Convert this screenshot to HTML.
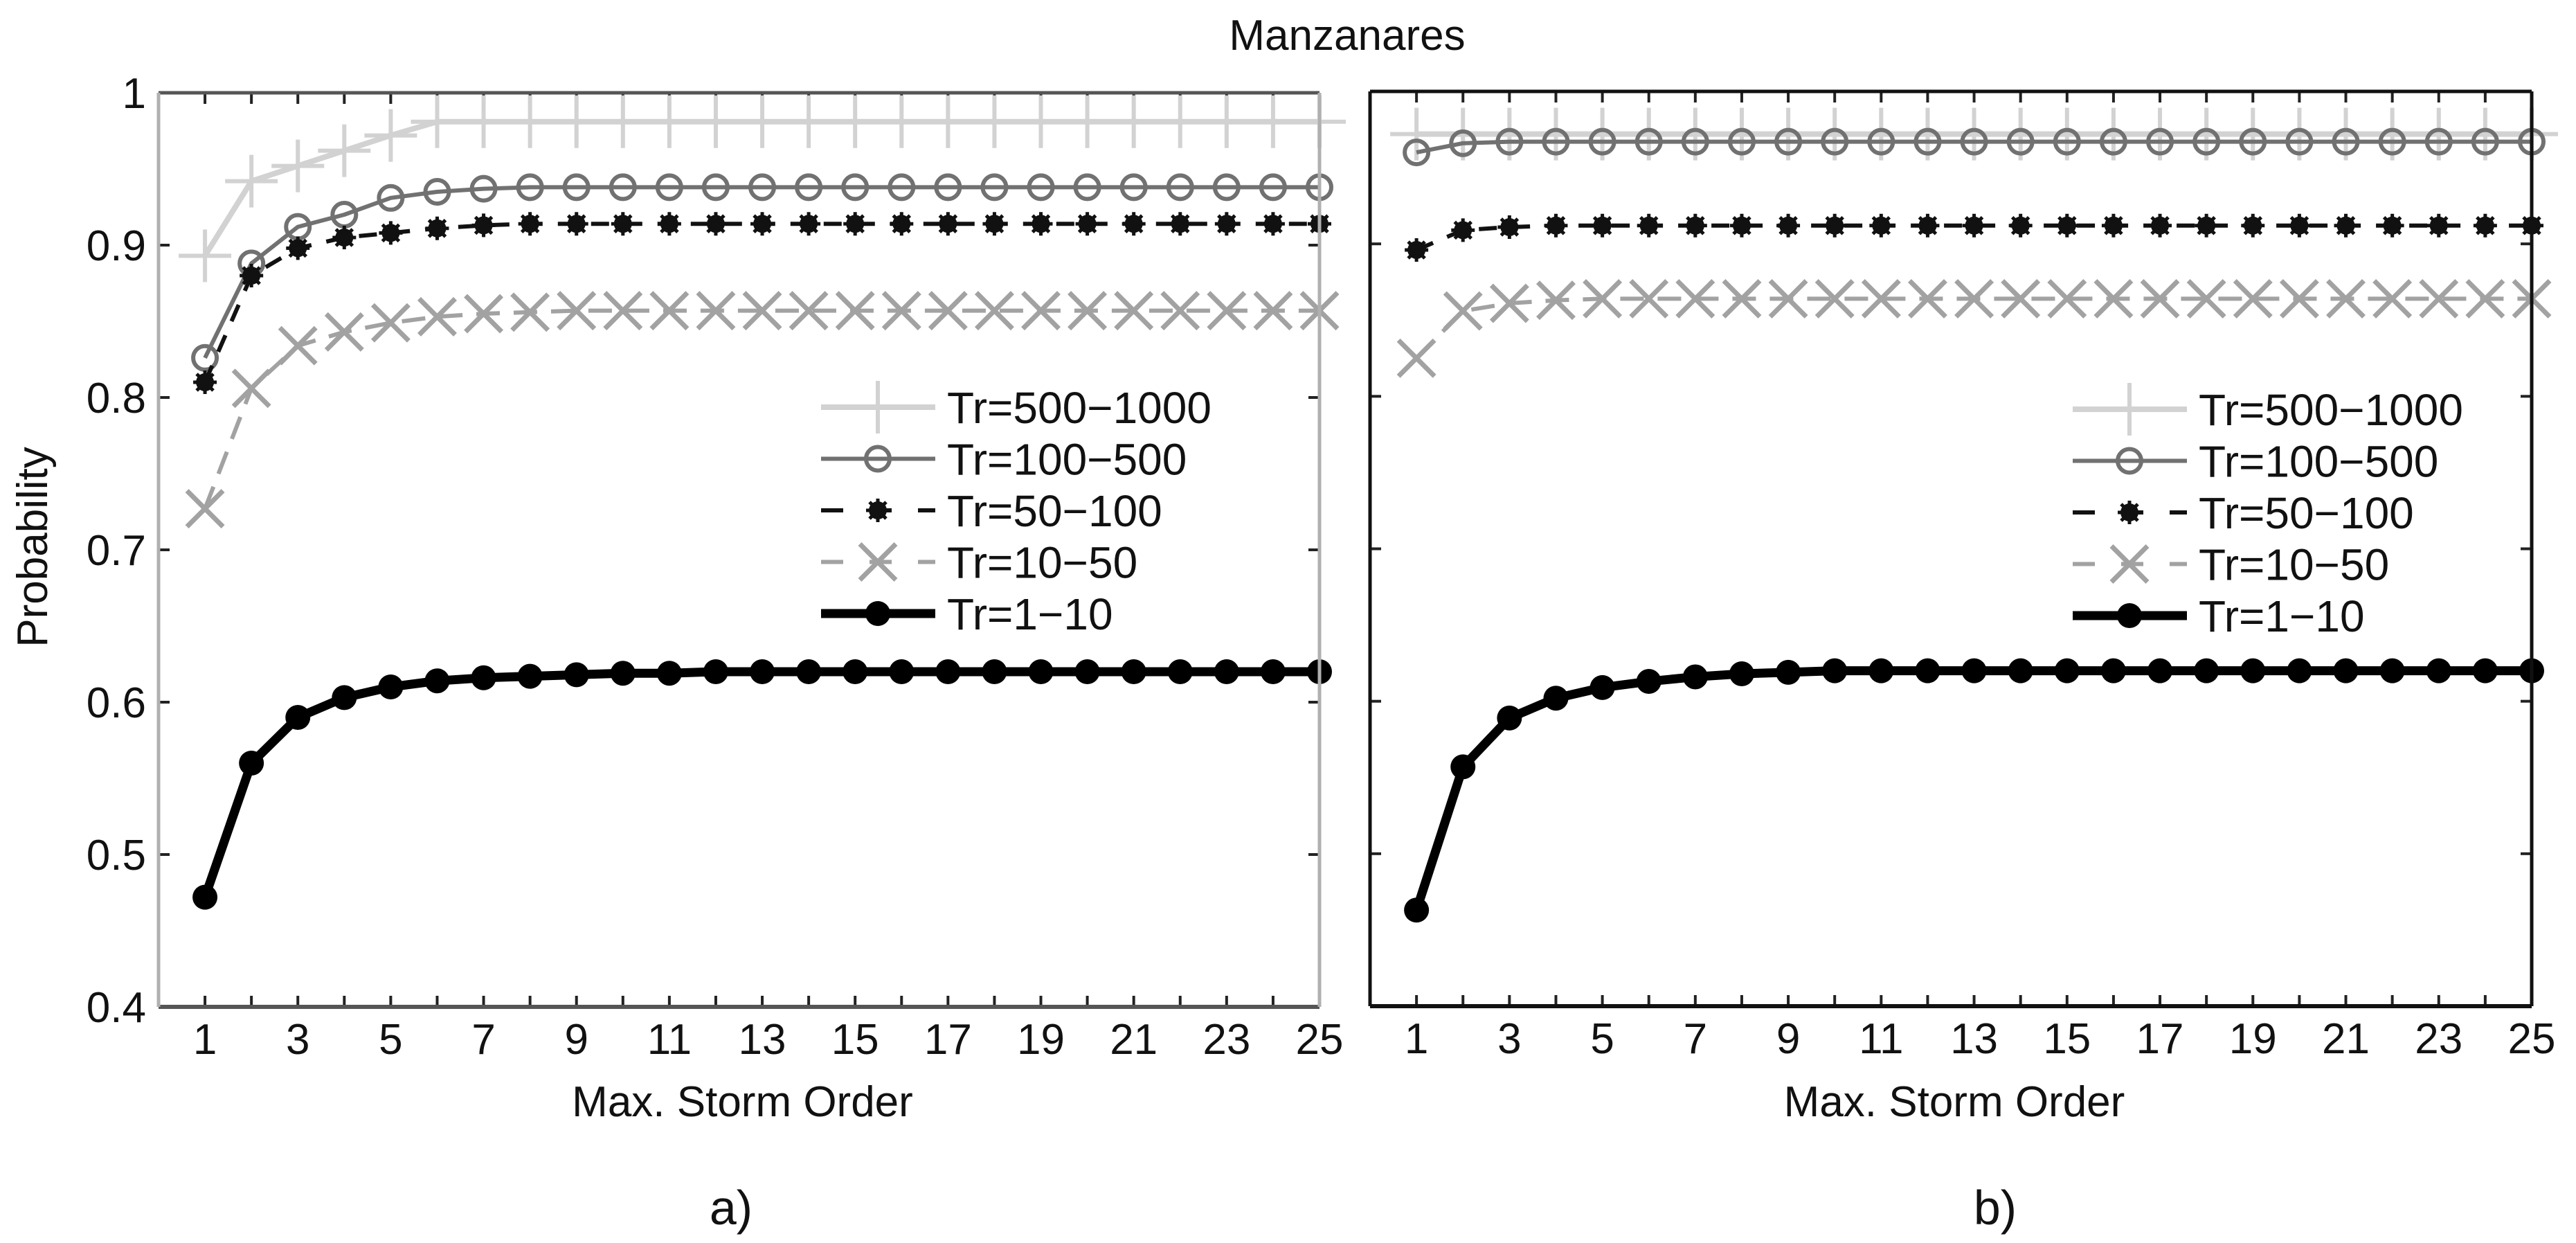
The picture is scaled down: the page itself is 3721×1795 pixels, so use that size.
<!DOCTYPE html>
<html><head><meta charset="utf-8"><style>
html,body{margin:0;padding:0;background:#fff}
svg{display:block}
text{font-family:"Liberation Sans",sans-serif;fill:#111}
</style></head><body>
<svg id="fig" width="3721" height="1795" viewBox="0 0 3721 1795" xmlns="http://www.w3.org/2000/svg">
<text x="1946" y="72" font-size="62" text-anchor="middle">Manzanares</text>
<g id="pa"></g>
<g id="pb"></g>
</svg>
<script>
const xs = [1,2,3,4,5,6,7,8,9,10,11,12,13,14,15,16,17,18,19,20,21,22,23,24,25];
const xTickLabels = [1,3,5,7,9,11,13,15,17,19,21,23,25];
const yTickLabels = ["0.4","0.5","0.6","0.7","0.8","0.9","1"];
const yTickValues = [0.4,0.5,0.6,0.7,0.8,0.9,1.0];
const seriesNames = ["Tr=500\u22121000","Tr=100\u2212500","Tr=50\u2212100","Tr=10\u221250","Tr=1\u221210"];
const a500 = [0.893,0.942,0.952,0.962,0.972,0.981,0.981,0.981,0.981,0.981,0.981,0.981,0.981,0.981,0.981,0.981,0.981,0.981,0.981,0.981,0.981,0.981,0.981,0.981,0.981];
const a100 = [0.826,0.888,0.912,0.920,0.931,0.935,0.937,0.938,0.938,0.938,0.938,0.938,0.938,0.938,0.938,0.938,0.938,0.938,0.938,0.938,0.938,0.938,0.938,0.938,0.938];
const a50 = [0.810,0.880,0.898,0.905,0.908,0.911,0.913,0.914,0.914,0.914,0.914,0.914,0.914,0.914,0.914,0.914,0.914,0.914,0.914,0.914,0.914,0.914,0.914,0.914,0.914];
const a10 = [0.727,0.806,0.834,0.843,0.849,0.853,0.855,0.856,0.857,0.857,0.857,0.857,0.857,0.857,0.857,0.857,0.857,0.857,0.857,0.857,0.857,0.857,0.857,0.857,0.857];
const a1 = [0.472,0.560,0.590,0.603,0.610,0.614,0.616,0.617,0.618,0.619,0.619,0.620,0.620,0.620,0.620,0.620,0.620,0.620,0.620,0.620,0.620,0.620,0.620,0.620,0.620];
const b500 = [0.972,0.972,0.972,0.972,0.972,0.972,0.972,0.972,0.972,0.972,0.972,0.972,0.972,0.972,0.972,0.972,0.972,0.972,0.972,0.972,0.972,0.972,0.972,0.972,0.972];
const b100 = [0.960,0.966,0.967,0.967,0.967,0.967,0.967,0.967,0.967,0.967,0.967,0.967,0.967,0.967,0.967,0.967,0.967,0.967,0.967,0.967,0.967,0.967,0.967,0.967,0.967];
const b50 = [0.896,0.909,0.911,0.912,0.912,0.912,0.912,0.912,0.912,0.912,0.912,0.912,0.912,0.912,0.912,0.912,0.912,0.912,0.912,0.912,0.912,0.912,0.912,0.912,0.912];
const b10 = [0.825,0.856,0.861,0.863,0.864,0.864,0.864,0.864,0.864,0.864,0.864,0.864,0.864,0.864,0.864,0.864,0.864,0.864,0.864,0.864,0.864,0.864,0.864,0.864,0.864];
const b1 = [0.463,0.557,0.589,0.602,0.609,0.613,0.616,0.618,0.619,0.620,0.620,0.620,0.620,0.620,0.620,0.620,0.620,0.620,0.620,0.620,0.620,0.620,0.620,0.620,0.620];

const NS="http://www.w3.org/2000/svg";
function mk(parent,tag,attrs){const e=document.createElementNS(NS,tag);for(const k in attrs)e.setAttribute(k,attrs[k]);parent.appendChild(e);return e;}
const styles=[
 {color:"#d2d2d2",w:8,dash:"",marker:"plus"},
 {color:"#717171",w:6,dash:"",marker:"circle"},
 {color:"#111",w:6,dash:"26 22",marker:"star"},
 {color:"#a2a2a2",w:6,dash:"34 20",marker:"x"},
 {color:"#000",w:13,dash:"",marker:"dot"}];

function marker(g,m,cx,cy,st){
  let e;
  if(m==="plus"){e=mk(g,"path",{d:`M${cx-38} ${cy}H${cx+38}M${cx} ${cy-38}V${cy+38}`,stroke:st.color,"stroke-width":6,fill:"none"});}
  else if(m==="circle"){e=mk(g,"circle",{cx:cx,cy:cy,r:17,stroke:st.color,"stroke-width":6,fill:"none"});}
  else if(m==="star"){e=mk(g,"g",{});
    mk(e,"circle",{cx:cx,cy:cy,r:13,fill:"#111"});
    mk(e,"path",{d:`M${cx-17} ${cy}H${cx+17}M${cx} ${cy-17}V${cy+17}M${cx-12} ${cy-12}L${cx+12} ${cy+12}M${cx-12} ${cy+12}L${cx+12} ${cy-12}`,stroke:"#111","stroke-width":5});}
  else if(m==="x"){e=mk(g,"path",{d:`M${cx-26} ${cy-26}L${cx+26} ${cy+26}M${cx-26} ${cy+26}L${cx+26} ${cy-26}`,stroke:st.color,"stroke-width":7,fill:"none"});}
  else {e=mk(g,"circle",{cx:cx,cy:cy,r:18,fill:"#000"});}
  
  
}

function panel(gid,left,right,top,bottom,series,showY,frameColor,leftColor,legX,legY,label,labelX){
  const g=document.getElementById(gid);
  const X=v=>left+(v/25)*(right-left);
  const Y=v=>bottom-(v-0.4)/0.6*(bottom-top);
  // ticks
  xs.forEach(v=>{const t=mk(g,"line",{x1:X(v),x2:X(v),y1:bottom,y2:bottom-16,stroke:"#222","stroke-width":4});
    
    const t2=mk(g,"line",{x1:X(v),x2:X(v),y1:top,y2:top+16,stroke:"#222","stroke-width":4});
    });
  yTickValues.forEach((v,i)=>{const t=mk(g,"line",{x1:left,x2:left+16,y1:Y(v),y2:Y(v),stroke:"#222","stroke-width":4});
    
    const t2=mk(g,"line",{x1:right,x2:right-16,y1:Y(v),y2:Y(v),stroke:"#222","stroke-width":4});
    
    if(showY){const tx=mk(g,"text",{x:left-18,y:Y(v)+22,"font-size":62,"text-anchor":"end"});tx.textContent=yTickLabels[i];
      }});
  xTickLabels.forEach(v=>{const tx=mk(g,"text",{x:X(v),y:bottom+68,"font-size":62,"text-anchor":"middle"});tx.textContent=v;
    });
  // series
  series.forEach((d,si)=>{const st=styles[si];
    const sg=mk(g,"g",{});
    
    
    const pts=d.map((v,i)=>X(xs[i])+","+Y(v)).join(" ");
    const pl=mk(sg,"polyline",{points:pts,fill:"none",stroke:st.color,"stroke-width":st.w,"stroke-dasharray":st.dash,"stroke-linejoin":"round"});
    
    d.forEach((v,i)=>marker(sg,st.marker,X(xs[i]),Y(v),st));});
  // frame
  const f1=mk(g,"line",{x1:left,x2:right,y1:top,y2:top,stroke:frameColor,"stroke-width":5});
  
  const f2=mk(g,"line",{x1:left,x2:right,y1:bottom,y2:bottom,stroke:frameColor,"stroke-width":6});
  
  const f3=mk(g,"line",{x1:left,x2:left,y1:top,y2:bottom,stroke:leftColor,"stroke-width":5});
  
  const f4=mk(g,"line",{x1:right,x2:right,y1:top,y2:bottom,stroke:leftColor,"stroke-width":5});
  
  // legend
  const lg=mk(g,"g",{});
  
  
  seriesNames.forEach((n,i)=>{const st=styles[i];const y=legY+i*74.5;
    const e=mk(lg,"g",{});
    
    
    mk(e,"line",{x1:legX,x2:legX+165,y1:y,y2:y,stroke:st.color,"stroke-width":st.w,"stroke-dasharray":st.dash?"32 38":""});
    marker(e,st.marker,legX+82,y,st);
    const t=mk(e,"text",{x:legX+182,y:y+23,"font-size":64});t.textContent=n;});
  const xl=mk(g,"text",{x:(left+right)/2+5,y:1612,"font-size":62,"text-anchor":"middle"});xl.textContent="Max. Storm Order";
  
  const pl=mk(g,"text",{x:labelX,y:1768,"font-size":70,"text-anchor":"middle"});pl.textContent=label;
  
}
panel("pa",229,1906,134,1454,[a500,a100,a50,a10,a1],true,"#555","#b0b0b0",1186,588,"a)",1056);
panel("pb",1979,3657,132,1453,[b500,b100,b50,b10,b1],false,"#111","#111",2994,591,"b)",2882);
const svg=document.getElementById("fig");
const yl=mk(svg,"text",{x:0,y:0,"font-size":62,"text-anchor":"middle",transform:"translate(68,790) rotate(-90)"});
yl.textContent="Probability";


</script>
</body></html>
